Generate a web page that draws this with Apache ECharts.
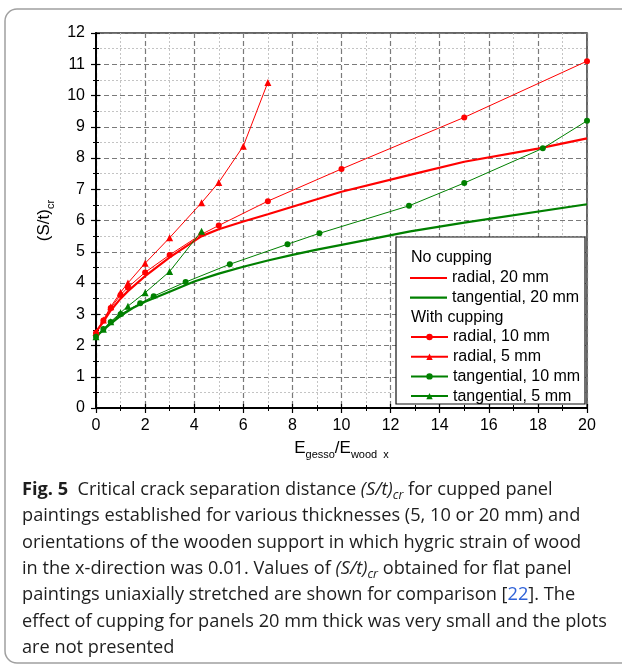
<!DOCTYPE html>
<html><head><meta charset="utf-8">
<script src="https://cdn.jsdelivr.net/npm/echarts@6/dist/echarts.min.js"></script>
<style>html,body{margin:0;padding:0;background:#fff}#c{width:622px;height:668px}</style>
</head><body><div id="c"></div>
<script>
// ---- data ----
const radial20X = [0, 0.3, 0.6, 1, 1.3, 2, 3, 4.3, 5, 6, 7, 8, 10, 13, 15, 18, 20];
const radial20Y = [2.44, 2.76, 3.12, 3.5, 3.74, 4.22, 4.82, 5.5, 5.72, 5.97, 6.2, 6.44, 6.92, 7.5, 7.88, 8.3, 8.63];
const tangential20X = [0, 0.3, 0.6, 1, 1.5, 2, 3, 4, 5, 6, 7, 8, 9, 10, 12.8, 15, 20];
const tangential20Y = [2.28, 2.5, 2.7, 2.95, 3.2, 3.4, 3.72, 4.05, 4.3, 4.52, 4.72, 4.9, 5.07, 5.22, 5.65, 5.93, 6.52];
const radial10X = [0, 0.3, 0.6, 1, 1.3, 2, 3, 4.3, 5, 7, 10, 15, 20];
const radial10Y = [2.4, 2.8, 3.2, 3.62, 3.86, 4.34, 4.9, 5.56, 5.84, 6.62, 7.65, 9.3, 11.1];
const radial5X = [0, 0.3, 0.6, 1, 1.3, 2, 3, 4.3, 5, 6, 7];
const radial5Y = [2.42, 2.82, 3.24, 3.7, 4.0, 4.63, 5.45, 6.57, 7.22, 8.38, 10.42];
const tangential10X = [0, 0.3, 0.6, 1, 1.8, 2.35, 3.65, 5.45, 7.8, 9.1, 12.75, 15, 18.2, 20];
const tangential10Y = [2.28, 2.53, 2.75, 3.0, 3.35, 3.58, 4.03, 4.6, 5.24, 5.59, 6.47, 7.2, 8.31, 9.19];
const tangential5X = [0, 0.3, 0.6, 1, 1.3, 2, 3, 4.3];
const tangential5Y = [2.28, 2.52, 2.76, 3.05, 3.26, 3.69, 4.37, 5.66];

const seriesNames = ['radial, 20 mm', 'tangential, 20 mm', 'radial, 10 mm', 'radial, 5 mm', 'tangential, 10 mm', 'tangential, 5 mm'];
const legendHeaders = ['No cupping', 'With cupping'];
const xTitle = ['E', 'gesso', '/E', 'wood  x'];
const yTitle = ['(S/t)', 'cr'];

const RED = '#ff0000', GREEN = '#008000';
const pairs = (xs, ys) => xs.map((x, i) => [x, ys[i]]);
const FONT = '"Liberation Sans", Arial, sans-serif';
const CAP = '"Open Sans", "Noto Sans", sans-serif';

function mk(name, xs, ys, color, width, symbol, size) {
  return {
    name, type: 'line', xAxisIndex: 0, yAxisIndex: 0,
    data: pairs(xs, ys),
    symbol: symbol || 'none', symbolSize: size || 0, showSymbol: !!symbol,
    lineStyle: { color, width }, itemStyle: { color },
    emphasis: { disabled: true }, animation: false, z: 3
  };
}

const chart = echarts.init(document.getElementById('c'), null, { renderer: 'canvas' });

const commonX = { type: 'value', min: 0, max: 20, interval: 2, gridIndex: 0 };
const commonY = { type: 'value', min: 0, max: 12, interval: 1, gridIndex: 0 };

const CS = 18.2, TXT = '#1e1e1e';
const capRich = {
  n: { fontFamily: CAP, fontSize: CS, fill: TXT, lineHeight: 24 },
  b: { fontFamily: CAP, fontSize: CS, fontWeight: 'bold', fill: TXT, lineHeight: 24 },
  i: { fontFamily: CAP, fontSize: CS, fontStyle: 'italic', fill: TXT, lineHeight: 24 },
  s: { fontFamily: CAP, fontSize: 12.5, fontStyle: 'italic', fill: TXT, lineHeight: 24, verticalAlign: 'bottom' },
  lk: { fontFamily: CAP, fontSize: CS, fill: '#2f62d8', lineHeight: 24 }
};
const capLines = [
  '{b|Fig. 5}{n|  Critical crack separation distance }{i|(S/t)}{s|cr}{n| for cupped panel}',
  '{n|paintings established for various thicknesses (5, 10 or 20 mm) and}',
  '{n|orientations of the wooden support in which hygric strain of wood}',
  '{n|in the x-direction was 0.01. Values of }{i|(S/t)}{s|cr}{n| obtained for flat panel}',
  '{n|paintings uniaxially stretched are shown for comparison [}{lk|22}{n|]. The}',
  '{n|effect of cupping for panels 20 mm thick was very small and the plots}',
  '{n|are not presented}'
];

const graphics = [
  { type: 'rect', shape: { x: 5, y: 9, width: 720, height: 654, r: 12 }, style: { fill: 'none', stroke: '#a0a0a0', lineWidth: 1.5 }, z: 0, silent: true },
  { type: 'rect', shape: { x: 396, y: 237, width: 189, height: 167 }, style: { fill: '#fff', stroke: '#111', lineWidth: 1.2 }, z: 50, silent: true },
  { type: 'text', x: 411, y: 258, style: { text: legendHeaders[0], font: '16px ' + FONT, fill: '#000', verticalAlign: 'middle' }, z: 60 },
  { type: 'text', x: 411, y: 318, style: { text: legendHeaders[1], font: '16px ' + FONT, fill: '#000', verticalAlign: 'middle' }, z: 60 }
];
capLines.forEach((t, i) => {
  graphics.push({ type: 'text', x: 22, y: 490 + i * 26.3, style: { text: t, rich: capRich, verticalAlign: 'middle' }, z: 60 });
});

const lineIcon = 'path://M0,0H37V2.2H0Z';
const legendCommon = {
  orient: 'vertical', left: 410, padding: 0, itemWidth: 37, itemHeight: 8, itemGap: 3.7, symbolKeepAspect: true,
  textStyle: { fontFamily: FONT, fontSize: 16, color: '#000', lineHeight: 16 },
  selectedMode: false, z: 60
};

chart.setOption({
  animation: false,
  backgroundColor: '#fff',
  grid: { left: 96, right: 35, top: 33, bottom: 260, show: true, borderColor: '#333', borderWidth: 1.5, backgroundColor: 'transparent' },
  xAxis: [
    Object.assign({}, commonX, {
      name: '{m|' + xTitle[0] + '}{s|' + xTitle[1] + '}{m|' + xTitle[2] + '}{s|' + xTitle[3] + '}',
      nameLocation: 'middle', nameGap: 28,
      nameTextStyle: { rich: {
        m: { fontFamily: FONT, fontSize: 17, color: '#000', lineHeight: 24 },
        s: { fontFamily: FONT, fontSize: 11, color: '#000', lineHeight: 24, verticalAlign: 'bottom' }
      } },
      axisLine: { onZero: false, lineStyle: { color: '#000', width: 2 } },
      axisTick: { inside: false, length: 5, lineStyle: { color: '#000', width: 1.2 } },
      minorTick: { show: true, splitNumber: 2, length: 3, lineStyle: { color: '#000', width: 1 } },
      axisLabel: { fontFamily: FONT, fontSize: 16, color: '#000', margin: 10 },
      splitLine: { show: true, lineStyle: { color: '#7a7a7a', type: [5, 3], width: 1.2 } },
      minorSplitLine: { show: true, lineStyle: { color: '#c4c4c4', type: [2, 2], width: 1 } }
    }),
    Object.assign({}, commonX, {
      position: 'bottom', axisLine: { show: false }, axisLabel: { show: false }, splitLine: { show: false },
      axisTick: { inside: true, length: 4, lineStyle: { color: '#000', width: 1.2 } },
      minorTick: { show: true, splitNumber: 2, length: 3, lineStyle: { color: '#000', width: 1 } }
    })
  ],
  yAxis: [
    Object.assign({}, commonY, {
      name: '{m|' + yTitle[0] + '}{s|' + yTitle[1] + '}',
      nameLocation: 'middle', nameGap: 40, nameRotate: 90,
      nameTextStyle: { rich: {
        m: { fontFamily: FONT, fontSize: 17, color: '#000', lineHeight: 24 },
        s: { fontFamily: FONT, fontSize: 11, color: '#000', lineHeight: 24, verticalAlign: 'bottom' }
      } },
      axisLine: { onZero: false, lineStyle: { color: '#000', width: 2 } },
      axisTick: { inside: false, length: 5, lineStyle: { color: '#000', width: 1.2 } },
      minorTick: { show: true, splitNumber: 2, length: 3, lineStyle: { color: '#000', width: 1 } },
      axisLabel: { fontFamily: FONT, fontSize: 16, color: '#000', margin: 11 },
      splitLine: { show: true, lineStyle: { color: '#7a7a7a', type: [5, 3], width: 1.2 } },
      minorSplitLine: { show: true, lineStyle: { color: '#c4c4c4', type: [2, 2], width: 1 } }
    }),
    Object.assign({}, commonY, {
      position: 'left', axisLine: { show: false }, axisLabel: { show: false }, splitLine: { show: false },
      axisTick: { inside: true, length: 4, lineStyle: { color: '#000', width: 1.2 } },
      minorTick: { show: true, splitNumber: 2, length: 3, lineStyle: { color: '#000', width: 1 } }
    })
  ],
  legend: [
    Object.assign({}, legendCommon, { top: 270,
      data: [{ name: seriesNames[0], icon: lineIcon }, { name: seriesNames[1], icon: lineIcon }] }),
    Object.assign({}, legendCommon, { top: 329, data: seriesNames.slice(2) })
  ],
  graphic: graphics,
  series: [
    mk(seriesNames[0], radial20X, radial20Y, RED, 2.2),
    mk(seriesNames[1], tangential20X, tangential20Y, GREEN, 2.2),
    mk(seriesNames[2], radial10X, radial10Y, RED, 1, 'circle', 6),
    mk(seriesNames[3], radial5X, radial5Y, RED, 1, 'triangle', 7),
    mk(seriesNames[4], tangential10X, tangential10Y, GREEN, 1, 'circle', 6),
    mk(seriesNames[5], tangential5X, tangential5Y, GREEN, 1, 'triangle', 7)
  ]
});
</script>
</body></html>
